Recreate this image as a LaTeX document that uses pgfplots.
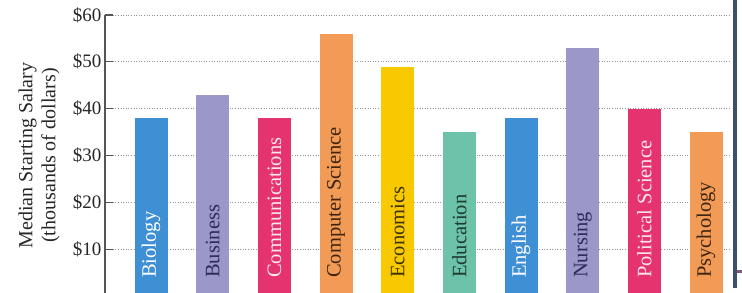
\documentclass[border=0pt]{standalone}
\usepackage{pgfplots}
\pgfplotsset{compat=1.18}
\usepackage{fontspec}
\setmainfont{Liberation Serif}
\definecolor{cblue}{HTML}{3F8FD5}
\definecolor{clav}{HTML}{9C97C9}
\definecolor{cpink}{HTML}{E5336F}
\definecolor{corange}{HTML}{F29B56}
\definecolor{cyellow}{HTML}{F9C900}
\definecolor{cteal}{HTML}{6CC3A9}
\definecolor{tnavy}{HTML}{2B2A55}
\definecolor{tbrown}{HTML}{3E2410}
\definecolor{tolive}{HTML}{3A3000}
\definecolor{tgreen}{HTML}{1E3B30}
\definecolor{tpink}{HTML}{FBE6EE}
\definecolor{axgray}{HTML}{555555}
\definecolor{framenavy}{HTML}{3B4F6E}
\definecolor{mauve}{HTML}{7D5B73}
\begin{document}
\begin{tikzpicture}
\path[use as bounding box] (-105bp,3bp) rectangle (637bp,296bp);
\clip (-105bp,3bp) rectangle (637bp,296bp);
\begin{axis}[
  at={(0,0)}, anchor=south west,
  scale only axis, width=626bp, height=281bp,
  xmin=-0.746, xmax=9.405, ymin=0, ymax=60,
  axis y line*=left, axis x line=none,
  axis line style={draw=axgray, line width=1.2bp},
  ytick={10,20,30,40,50,60},
  yticklabels={\$10,\$20,\$30,\$40,\$50,\$60},
  yticklabel style={font=\fontsize{19bp}{22bp}\selectfont, text=black!85},
  tick align=inside,
  major tick length=8bp,
  ytick style={draw=axgray, line width=1.2bp},
  ymajorgrids,
  major grid style={draw=gray!85, line width=0.9bp, dash pattern=on 1bp off 1.6bp},
  ybar, bar width=33bp, bar shift=0pt,
  clip=false,
]
\addplot[fill=cblue, draw=none] coordinates {(0,38)};
\addplot[fill=clav, draw=none] coordinates {(1,43)};
\addplot[fill=cpink, draw=none] coordinates {(2,38)};
\addplot[fill=corange, draw=none] coordinates {(3,56)};
\addplot[fill=cyellow, draw=none] coordinates {(4,49)};
\addplot[fill=cteal, draw=none] coordinates {(5,35)};
\addplot[fill=cblue, draw=none] coordinates {(6,38)};
\addplot[fill=clav, draw=none] coordinates {(7,53)};
\addplot[fill=cpink, draw=none] coordinates {(8,40)};
\addplot[fill=corange, draw=none] coordinates {(9,35)};
\tikzset{blab/.style={rotate=90, anchor=west, inner sep=0pt, font=\fontsize{20.5bp}{24bp}\selectfont}}
\node[blab, text=white] at (axis cs:0,3.84) {Biology};
\node[blab, text=tnavy] at (axis cs:1,3.84) {Business};
\node[blab, text=tpink] at (axis cs:2,3.84) {Communications};
\node[blab, text=tbrown] at (axis cs:3,3.84) {Computer Science};
\node[blab, text=tolive] at (axis cs:4,3.84) {Economics};
\node[blab, text=tgreen] at (axis cs:5,3.84) {Education};
\node[blab, text=white] at (axis cs:6,3.84) {English};
\node[blab, text=tnavy] at (axis cs:7,3.84) {Nursing};
\node[blab, text=tpink] at (axis cs:8,3.84) {Political Science};
\node[blab, text=tbrown] at (axis cs:9,3.84) {Psychology};
\end{axis}
\node[rotate=90, align=center, text=black!85, font=\fontsize{20bp}{23bp}\selectfont] at (-66bp,140.5bp) {Median Starting Salary\\(thousands of dollars)};
\fill[framenavy] (628bp,8bp) rectangle (632bp,300bp);
\fill[mauve] (632bp,23bp) rectangle (640bp,26bp);
\end{tikzpicture}
\end{document}
